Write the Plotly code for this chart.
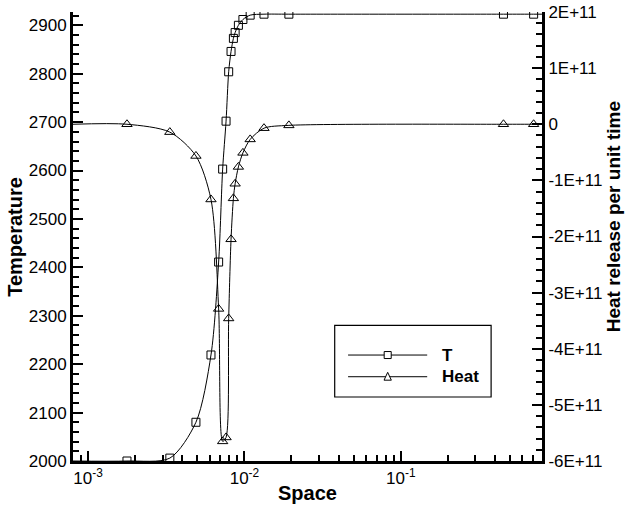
import plotly.graph_objects as go

# Flame profile: temperature and heat release along the domain (log-spaced coordinate)
space = [8.0e-4, 1.773e-3, 3.333e-3, 4.895e-3, 6.11e-3, 6.84e-3, 7.256e-3, 7.63e-3,
         7.93e-3, 8.21e-3, 8.50e-3, 8.72e-3, 9.15e-3, 9.78e-3, 1.088e-2, 1.334e-2,
         1.925e-2, 0.454, 0.708, 0.80]
temperature = [2000, 2000, 2006, 2080, 2219, 2411, 2603, 2702, 2804, 2846, 2873, 2885,
               2900, 2912, 2921, 2923, 2923, 2923, 2923, 2923]
heat_release = [0.0, 0.0, -0.14e11, -0.565e11, -1.34e11, -3.29e11, -5.65e11, -5.58e11,
                -3.46e11, -2.05e11, -1.32e11, -1.06e11, -0.76e11, -0.51e11, -0.27e11,
                -0.07e11, -0.02e11, 0.0, 0.0, 0.0]

x_tickvals = [1e-3, 1e-2, 1e-1]
x_ticktext = ["10<sup>-3</sup>", "10<sup>-2</sup>", "10<sup>-1</sup>"]
t_ticks = list(range(2000, 3000, 100))
h_ticks = [2e11, 1e11, 0, -1e11, -2e11, -3e11, -4e11, -5e11, -6e11]
h_ticktext = ["2E+11", "1E+11", "0", "-1E+11", "-2E+11", "-3E+11", "-4E+11", "-5E+11", "-6E+11"]

FONT = "Liberation Sans, Arial, Helvetica, sans-serif"
INK = "black"

fig = go.Figure()

# curves (every grid point) and symbols (inner points)
fig.add_trace(go.Scatter(x=space, y=temperature, mode="lines", yaxis="y",
                         line=dict(color=INK, width=1, shape="spline", smoothing=0.8),
                         showlegend=False, hoverinfo="skip"))
fig.add_trace(go.Scatter(x=space[1:-1], y=temperature[1:-1], mode="markers", yaxis="y",
                         marker=dict(symbol="square-open", size=8, color=INK,
                                     line=dict(width=1, color=INK)),
                         showlegend=False, name="T"))
fig.add_trace(go.Scatter(x=space, y=heat_release, mode="lines", yaxis="y2",
                         line=dict(color=INK, width=1, shape="spline", smoothing=0.8),
                         showlegend=False, hoverinfo="skip"))
fig.add_trace(go.Scatter(x=space[1:-1], y=heat_release[1:-1], mode="markers", yaxis="y2",
                         marker=dict(symbol="triangle-up-open", size=9, color=INK,
                                     line=dict(width=1, color=INK)),
                         showlegend=False, name="Heat"))

axis_font = dict(family=FONT, size=17, color=INK)

fig.update_layout(
    width=625, height=511,
    margin=dict(l=73, r=83, t=12, b=50, autoexpand=False),
    paper_bgcolor="white", plot_bgcolor="white",
    font=dict(family=FONT, color=INK),
    xaxis=dict(type="log", range=[-3.0966, -0.0965], showgrid=False, zeroline=False,
               showline=True, linewidth=3, linecolor=INK, automargin=False,
               ticks="inside", ticklen=10, tickwidth=2, tickcolor=INK,
               tickmode="array", tickvals=x_tickvals, ticktext=x_ticktext,
               tickfont=axis_font,
               minor=dict(ticks="inside", ticklen=6, tickwidth=1.5, tickcolor=INK,
                          dtick="D1", showgrid=False)),
    yaxis=dict(range=[2000, 2927.5], showgrid=False, zeroline=False, automargin=False,
               showline=True, linewidth=3, linecolor=INK,
               ticks="inside", ticklen=10, tickwidth=2, tickcolor=INK,
               tickmode="array", tickvals=t_ticks, tickfont=axis_font,
               minor=dict(dtick=20, ticks="inside", ticklen=6, tickwidth=1.5,
                          tickcolor=INK, showgrid=False)),
    yaxis2=dict(overlaying="y", side="right", range=[-6e11, 2e11], showgrid=False,
                zeroline=False, showline=True, linewidth=3, linecolor=INK, automargin=False,
                ticks="inside", ticklen=10, tickwidth=2, tickcolor=INK,
                tickmode="array", tickvals=h_ticks, ticktext=h_ticktext, tickfont=axis_font,
                minor=dict(dtick=2e10, ticks="inside", ticklen=6, tickwidth=1.5,
                           tickcolor=INK, showgrid=False)),
    showlegend=False,
)

# legend panel in paper coordinates (plot-area fractions)
legend_rows = [("T", "square-open", 0.2360), ("Heat", "triangle-up-open", 0.1877)]
for label, sym, yy in legend_rows:
    fig.add_shape(type="line", xref="paper", yref="paper", x0=0.5865, x1=0.7552,
                  y0=yy, y1=yy, line=dict(color=INK, width=1))
    fig.add_annotation(xref="paper", yref="paper", x=0.7820, y=yy, text=f"<b>{label}</b>",
                       showarrow=False, xanchor="left", yanchor="middle",
                       font=dict(family=FONT, size=17, color=INK))
# legend symbols: small white-filled glyph boxes centred on the sample lines
fig.add_shape(type="rect", xref="paper", yref="paper", x0=0.6710 - 0.0075, x1=0.6710 + 0.0075,
              y0=0.2360 - 0.0078, y1=0.2360 + 0.0078, line=dict(color=INK, width=1),
              fillcolor="white")
fig.add_shape(type="path", xref="paper", yref="paper",
              path="M 0.6632 0.1800 L 0.6788 0.1800 L 0.6710 0.1975 Z",
              line=dict(color=INK, width=1), fillcolor="white")
fig.add_shape(type="rect", xref="paper", yref="paper", x0=0.5580, x1=0.8915,
              y0=0.1425, y1=0.3020, line=dict(color=INK, width=1.2),
              fillcolor="rgba(0,0,0,0)")

title_font = dict(family=FONT, size=20, color=INK)
fig.add_annotation(xref="paper", yref="paper", x=0.499, y=-0.072, text="<b>Space</b>",
                   showarrow=False, xanchor="center", yanchor="middle", font=title_font)
fig.add_annotation(xref="paper", yref="paper", x=-0.124, y=0.499, text="<b>Temperature</b>",
                   showarrow=False, textangle=-90, xanchor="center", yanchor="middle",
                   font=title_font)
fig.add_annotation(xref="paper", yref="paper", x=1.152, y=0.5434,
                   text="<b>Heat release per unit time</b>", showarrow=False, textangle=-90,
                   xanchor="center", yanchor="middle", font=dict(family=FONT, size=19, color=INK))

fig.write_html("out.html")
